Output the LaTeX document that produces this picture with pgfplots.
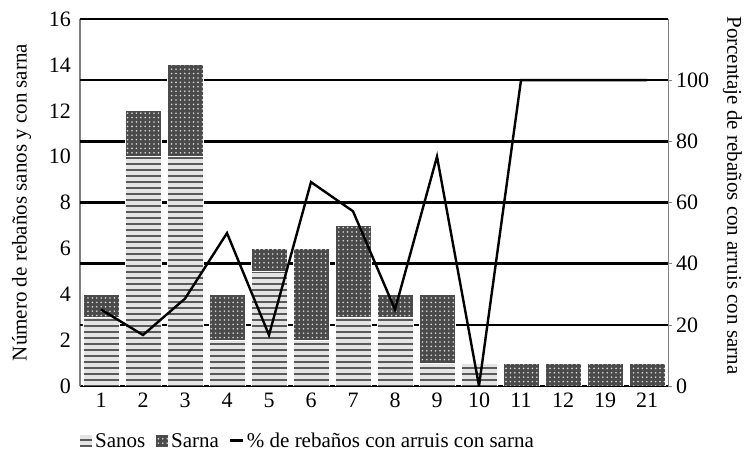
\documentclass[border=0pt]{standalone}
\usepackage{pgfplots}
\pgfplotsset{compat=1.18}
\usepackage{fontspec}
\setmainfont{Liberation Serif}
\usetikzlibrary{patterns.meta}
\definecolor{sanosbg}{HTML}{E4E4E4}
\definecolor{sanosln}{HTML}{5A5A5A}
\definecolor{sarnabg}{HTML}{4A4A4A}
\tikzset{
  sanos/.style={fill=sanosbg, draw=white, line width=0.4pt,
    postaction={pattern={Lines[angle=0, distance=3pt, line width=1pt]}, pattern color=sanosln}},
  sarna/.style={fill=sarnabg, draw=white, line width=0.4pt,
    postaction={pattern={Dots[distance=2.2pt, radius=0.45pt]}, pattern color=white!85!black}},
}
\pgfplotsset{
  tick label style={font=\fontsize{11}{13}\selectfont},
  label style={font=\fontsize{10.5}{12}\selectfont},
  /pgf/number format/assume math mode=true,
}
\begin{document}
\begin{tikzpicture}
\begin{axis}[
  scale only axis, width=294pt, height=183.5pt,
  ybar stacked, bar width=18pt,
  xmin=-0.5, xmax=13.5, ymin=0, ymax=16,
  xtick={0,...,13},
  xticklabels={1,2,3,4,5,6,7,8,9,10,11,12,19,21},
  ytick={0,2,...,16},
  axis y line*=left, axis x line*=bottom,
  x axis line style={-, black, line width=1.2pt},
  y axis line style={-, gray, line width=0.5pt},
  tick style={draw=none},
  yticklabel style={xshift=-1pt},
  ylabel={Número de rebaños sanos y con sarna},
  ylabel style={yshift=2pt},
  extra y ticks={2.66667,5.33333,8,10.66667,13.33333,16},
  extra y tick labels={},
  extra y tick style={ymajorgrids=true, major grid style={black, line width=1.2pt}, tick style={draw=none}},
]
\addplot[sanos] coordinates {(0,3) (1,10) (2,10) (3,2) (4,5) (5,2) (6,3) (7,3) (8,1) (9,1) (10,0) (11,0) (12,0) (13,0)};
\addplot[sarna] coordinates {(0,1) (1,2) (2,4) (3,2) (4,1) (5,4) (6,4) (7,1) (8,3) (9,0) (10,1) (11,1) (12,1) (13,1)};
\end{axis}
\begin{axis}[
  scale only axis, width=294pt, height=183.5pt,
  xmin=-0.5, xmax=13.5, ymin=0, ymax=120,
  axis y line*=right, axis x line=none,
  y axis line style={-, gray, line width=0.5pt},
  ytick={0,20,...,100},
  tick align=outside, major tick length=2pt,
  tick style={gray},
  yticklabel style={xshift=-1.5pt},
  ylabel={Porcentaje de rebaños con arruis con sarna},
  ylabel style={rotate=180, xshift=-3.5pt},
  legend style={at={(axis description cs:-0.012,-0.105)}, anchor=north west,
    draw=none, fill=none, font=\fontsize{10.5}{12}\selectfont,
    legend columns=3, /tikz/every even column/.append style={column sep=3pt},
    /tikz/every odd column/.append style={column sep=-1pt}},
  legend cell align=left,
]
\addlegendimage{legend image code/.code={\draw[sanos] (0pt,-3pt) rectangle (6.5pt,3.5pt);}}
\addlegendentry{Sanos}
\addlegendimage{legend image code/.code={\draw[sarna] (0pt,-3pt) rectangle (6.5pt,3.5pt);}}
\addlegendentry{Sarna}
\addlegendimage{legend image code/.code={\draw[black, line width=1.5pt] (0pt,0.5pt) -- (6.5pt,0.5pt);}}
\addlegendentry{\% de rebaños con arruis con sarna}
\addplot[black, line width=1.2pt, mark=none, forget plot] coordinates {(0,25) (1,16.67) (2,28.57) (3,50) (4,16.67) (5,66.67) (6,57.14) (7,25) (8,75) (9,0) (10,100) (11,100) (12,100) (13,100)};
\coordinate (ll) at (rel axis cs:0,0);
\coordinate (ur) at (rel axis cs:1,1);
\end{axis}
\pgfresetboundingbox
\path ([shift={(-40pt,-33pt)}]ll) rectangle ([shift={(42pt,9.5pt)}]ur);
\end{tikzpicture}
\end{document}
